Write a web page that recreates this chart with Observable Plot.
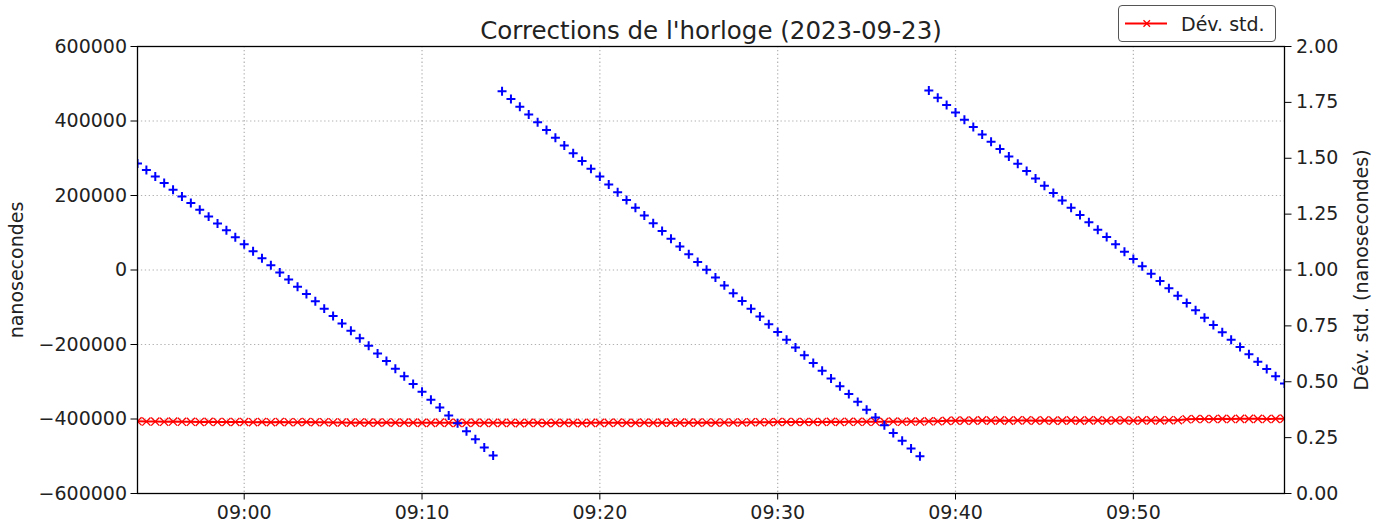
<!DOCTYPE html>
<html>
<head>
<meta charset="utf-8">
<script src="https://cdn.jsdelivr.net/npm/d3@7"></script>
<script src="https://cdn.jsdelivr.net/npm/@observablehq/plot@0.6"></script>
<style>
  html, body { margin: 0; padding: 0; background: white; }
  #wrap { position: relative; width: 1381px; height: 529px; overflow: hidden; }
  #legend { position: absolute; left: 1118px; top: 5px; width: 156px; height: 35px;
            border: 1px solid #555; border-radius: 4px; background: rgba(255,255,255,0.8); }
</style>
</head>
<body>
<div id="wrap">
  <div id="chart"></div>
  <div id="legend">
    <svg width="156" height="35" style="position:absolute;left:0;top:0">
      <line x1="6" x2="48" y1="17.5" y2="17.5" stroke="red" stroke-width="2"></line>
      <path d="M24.5,14.3 L31,20.7 M24.5,20.7 L31,14.3" stroke="red" stroke-width="1.3" fill="none"></path>
      <text x="62" y="24.5" font-family="DejaVu Sans" font-size="19px" fill="#222">Dév. std.</text>
    </svg>
  </div>
</div>
<script>
// ---- Data ----
const title = "Corrections de l'horloge (2023-09-23)";
const leftLabel = "nanosecondes";
const rightLabel = "Dév. std. (nanosecondes)";
const startTime = "2023-09-23T08:54:00Z";   // first sample
const stepSeconds = 30;                      // sampling period
const xTickLabels = ["09:00", "09:10", "09:20", "09:30", "09:40", "09:50"];
const leftTicks = [-600000, -400000, -200000, 0, 200000, 400000, 600000];
const rightTicks = [0, 0.25, 0.5, 0.75, 1.0, 1.25, 1.5, 1.75, 2.0];

// Clock corrections (ns), three sawtooth segments
const corrSeg1 = [286000, 268500, 251000, 233300, 215500, 197600, 179600, 161500, 143300, 124900,
  106500, 87900, 69300, 50500, 31600, 12600, -6500, -25700, -45000, -64500,
  -84000, -103700, -123400, -143300, -163300, -183400, -203600, -223900, -244300, -264900,
  -285500, -306300, -327100, -348100, -369200, -390400, -411700, -433100, -454600, -476300,
  -498000];
const corrSeg2 = [480000, 459200, 438300, 417500, 396600, 375800, 354900, 334100, 313200, 292400,
  271500, 250700, 229800, 209000, 188100, 167300, 146400, 125600, 104700, 83900,
  63000, 42200, 21300, 500, -20400, -41300, -62100, -83000, -103800, -124700,
  -145500, -166400, -187200, -208100, -228900, -249800, -270600, -291500, -312300, -333200,
  -354000, -374900, -395700, -416600, -437400, -458300, -479100, -500000];
const corrSeg3 = [482000, 462300, 442700, 423000, 403300, 383600, 364000, 344300, 324600, 304900,
  285300, 265600, 245900, 226200, 206600, 186900, 167200, 147500, 127900, 108200,
  88500, 68800, 49200, 29500, 9800, -9900, -29600, -49200, -68900, -88600,
  -108300, -127900, -147600, -167300, -187000, -206600, -226300, -246000, -265700, -285300,
  -305000];

// Standard deviation (ns), right axis
const stdDev = [0.323, 0.322, 0.322, 0.321, 0.322, 0.321, 0.321, 0.320, 0.321, 0.320, 0.320,
  0.320, 0.320, 0.319, 0.320, 0.319, 0.320, 0.319, 0.319, 0.320, 0.319,
  0.319, 0.318, 0.318, 0.317, 0.318, 0.317, 0.317, 0.318, 0.317, 0.317,
  0.317, 0.316, 0.316, 0.317, 0.316, 0.316, 0.316, 0.317, 0.316, 0.316,
  0.316, 0.316, 0.315, 0.316, 0.316, 0.315, 0.316, 0.316, 0.316, 0.315,
  0.316, 0.316, 0.316, 0.317, 0.316, 0.316, 0.317, 0.316, 0.317, 0.317,
  0.317, 0.317, 0.317, 0.318, 0.317, 0.318, 0.318, 0.318, 0.319, 0.319,
  0.319, 0.320, 0.320, 0.320, 0.320, 0.320, 0.320, 0.321, 0.320, 0.321,
  0.321, 0.321, 0.321, 0.321, 0.322, 0.321, 0.322, 0.322, 0.323, 0.323,
  0.325, 0.326, 0.326, 0.326, 0.327, 0.326, 0.327, 0.326, 0.327, 0.327,
  0.326, 0.327, 0.326, 0.326, 0.327, 0.326, 0.327, 0.327, 0.326, 0.327,
  0.327, 0.326, 0.327, 0.327, 0.327, 0.328, 0.328,
  0.332, 0.333, 0.333, 0.333, 0.334, 0.333, 0.334, 0.334, 0.334, 0.333, 0.334, 0.335];

// ---- Build tables ----
const corrections = [...corrSeg1, ...corrSeg2, ...corrSeg3];
const t0 = new Date(startTime);
const timeAt = i => new Date(t0.getTime() + i * stepSeconds * 1000);
const corrData = corrections.map((v, i) => ({t: timeAt(i), v}));
const stdData = stdDev.map((s, i) => ({t: timeAt(i), s}));
const tEnd = timeAt(stdDev.length - 1);

// right axis (0..2) mapped onto left axis domain (-600000..600000)
const yMin = -600000, yMax = 600000, rMin = 0, rMax = 2;
const toLeft = s => yMin + (s - rMin) / (rMax - rMin) * (yMax - yMin);
const fromLeft = y => rMin + (y - yMin) / (yMax - yMin) * (rMax - rMin);

const xTicks = xTickLabels.map(l => new Date(`2023-09-23T${l}:00Z`));
const fmtLeft = d => d < 0 ? "\u2212" + Math.abs(d) : String(d);
const gridStyle = {stroke: "#b0b0b0", strokeOpacity: 1, strokeWidth: 1.2, strokeDasharray: "1.3,2.6"};

const chart = Plot.plot({
  width: 1381,
  height: 529,
  marginLeft: 137,
  marginRight: 97,
  marginTop: 46,
  marginBottom: 36,
  style: {fontFamily: "DejaVu Sans", fontSize: "19px", color: "#222", background: "white", overflow: "visible"},
  x: {type: "utc", domain: [t0, tEnd]},
  y: {domain: [yMin, yMax]},
  marks: [
    Plot.gridX(xTicks, gridStyle),
    Plot.gridY(leftTicks, gridStyle),
    Plot.line(stdData, {x: "t", y: d => toLeft(d.s), stroke: "red", strokeWidth: 2, clip: true}),
    Plot.dot(stdData, {x: "t", y: d => toLeft(d.s), symbol: "times", r: 3.8, stroke: "red", strokeWidth: 1.3, clip: true}),
    Plot.dot(corrData, {x: "t", y: "v", symbol: "plus", r: 3.0, stroke: "blue", strokeWidth: 2, clip: true}),
    Plot.frame({stroke: "black", strokeWidth: 1.3}),
    Plot.axisX({ticks: xTicks, tickFormat: d3.utcFormat("%H:%M"), tickSize: 6.5, tickPadding: 5, tickWidth: 1.3, label: null, stroke: "black"}),
    Plot.axisY({anchor: "left", ticks: leftTicks, tickFormat: fmtLeft, tickSize: 6.5, tickPadding: 4, label: leftLabel,
      labelAnchor: "center", labelArrow: "none", labelOffset: 128, stroke: "black"}),
    Plot.axisY({anchor: "right", ticks: rightTicks.map(toLeft), tickFormat: d => fromLeft(d).toFixed(2), tickSize: 6.5, tickPadding: 5,
      label: rightLabel, labelAnchor: "center", labelArrow: "none", labelOffset: 83, stroke: "black"}),
    Plot.text([title], {frameAnchor: "top", lineAnchor: "bottom", dy: -8, fontSize: 24.5, fill: "#222"})
  ]
});
document.getElementById("chart").appendChild(chart);
</script>
</body>
</html>
